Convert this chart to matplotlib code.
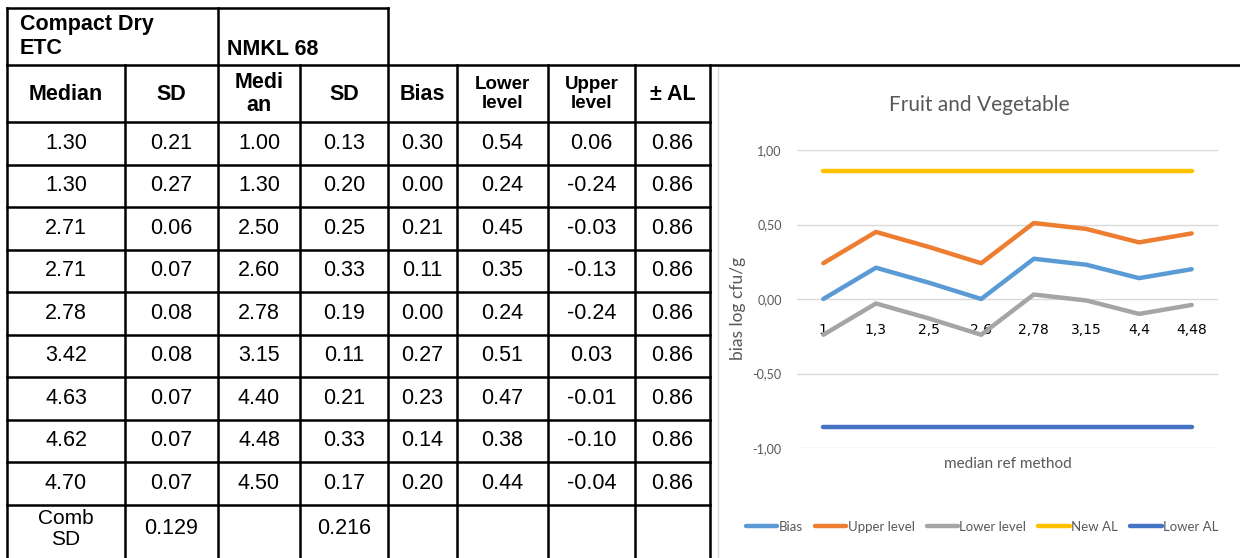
# Compact Dry ETC vs NMKL 68: table on the left, bias chart on the right
import matplotlib
matplotlib.use('Agg')
import matplotlib.pyplot as plt
from matplotlib.patches import Rectangle

# table data
ctd_median = [1.30, 1.30, 2.71, 2.71, 2.78, 3.42, 4.63, 4.62, 4.70]
ctd_sd = [0.21, 0.27, 0.06, 0.07, 0.08, 0.08, 0.07, 0.07, 0.07]
nmkl_median = [1.00, 1.30, 2.50, 2.60, 2.78, 3.15, 4.40, 4.48, 4.50]
nmkl_sd = [0.13, 0.20, 0.25, 0.33, 0.19, 0.11, 0.21, 0.33, 0.17]
bias = [0.30, 0.00, 0.21, 0.11, 0.00, 0.27, 0.23, 0.14, 0.20]
lower_level = [0.54, 0.24, 0.45, 0.35, 0.24, 0.51, 0.47, 0.38, 0.44]
upper_level = [0.06, -0.24, -0.03, -0.13, -0.24, 0.03, -0.01, -0.10, -0.04]
al = [0.86, 0.86, 0.86, 0.86, 0.86, 0.86, 0.86, 0.86, 0.86]
comb_sd = ['0.129', '', '0.216', '', '', '', '']
col_heads = ['Median', 'SD', 'Medi\nan', 'SD', 'Bias', 'Lower\nlevel', 'Upper\nlevel', '± AL']

# chart data
categories = ['1', '1,3', '2,5', '2,6', '2,78', '3,15', '4,4', '4,48']
chart_bias = [0.00, 0.21, 0.11, 0.00, 0.27, 0.23, 0.14, 0.20]
chart_upper = [0.24, 0.45, 0.35, 0.24, 0.51, 0.47, 0.38, 0.44]
chart_lower = [-0.24, -0.03, -0.13, -0.24, 0.03, -0.01, -0.10, -0.04]
new_al = [0.86] * 8
lower_al = [-0.86] * 8

W, H = 1240, 558
fig = plt.figure(figsize=(W / 100, H / 100), dpi=100)

# background axes in pixel coordinates for the table
bg = fig.add_axes([0, 0, 1, 1])
bg.set_xlim(0, W)
bg.set_ylim(H, 0)
bg.axis('off')

tfont = 'Liberation Sans'
cols = [7, 125, 218, 300, 388, 457, 548, 635, 710]
rows = [122 + 42.5 * i for i in range(10)]  # data row borders
lw = 1.8

# top group boxes
bg.plot([7, 388], [8, 8], color='black', lw=lw)
for x in [7, 218, 388]:
    bg.plot([x, x], [8, 65], color='black', lw=lw)
bg.plot([7, W], [65, 65], color='black', lw=lw)
bg.text(20, 14, 'Compact Dry\nETC', fontsize=15.5, fontweight='bold', family=tfont,
        va='top', ha='left', linespacing=1.2)
bg.text(227, 60, 'NMKL 68', fontsize=15.5, fontweight='bold', family=tfont,
        va='bottom', ha='left')

# grid of the main table
for x in cols:
    bg.plot([x, x], [65, H], color='black', lw=lw)
for y in rows:
    bg.plot([cols[0], cols[-1]], [y, y], color='black', lw=lw)

# header row
for j, h in enumerate(col_heads):
    cx = (cols[j] + cols[j + 1]) / 2
    fs = 13.5 if 'level' in h else 15.5
    bg.text(cx, 94, h, fontsize=fs, fontweight='bold', family=tfont,
            ha='center', va='center', linespacing=1.15)

# data rows
table_cols = [ctd_median, ctd_sd, nmkl_median, nmkl_sd, bias, lower_level, upper_level, al]
for i in range(9):
    cy = (rows[i] + rows[i + 1]) / 2
    for j, col in enumerate(table_cols):
        cx = (cols[j] + cols[j + 1]) / 2
        bg.text(cx, cy, '%.2f' % col[i], fontsize=15.5, family=tfont,
                ha='center', va='center')

# Comb SD row
bg.text((cols[0] + cols[1]) / 2, 529, 'Comb\nSD', fontsize=15, family=tfont,
        ha='center', va='center', linespacing=1.15)
for j, v in enumerate(comb_sd):
    cx = (cols[j + 1] + cols[j + 2]) / 2
    bg.text(cx, 529, v, fontsize=15.5, family=tfont, ha='center', va='center')

# chart frame
bg.add_patch(Rectangle((718, 66), 600, 600, fill=False, edgecolor='#D9D9D9', lw=1))

# chart
cfont = ['Lato', 'DejaVu Sans']
grey = '#595959'
ax = fig.add_axes([797 / W, (H - 448) / H, 421 / W, 298 / H])
x = [i + 0.5 for i in range(len(categories))]
line_kw = dict(lw=3.2, solid_capstyle='round')
ax.plot(x, chart_bias, color='#5B9BD5', label='Bias', **line_kw)
ax.plot(x, chart_upper, color='#ED7D31', label='Upper level', **line_kw)
ax.plot(x, chart_lower, color='#A5A5A5', label='Lower level', **line_kw)
ax.plot(x, new_al, color='#FFC000', label='New AL', **line_kw)
ax.plot(x, lower_al, color='#4472C4', label='Lower AL', **line_kw)

ax.set_xlim(0, 8)
ax.set_ylim(-1, 1)
ax.set_yticks([-1, -0.5, 0, 0.5, 1])
ax.set_yticklabels(['-1,00', '-0,50', '0,00', '0,50', '1,00'], family=cfont,
                   fontsize=9, color=grey)
ax.set_xticks(x)
ax.set_xticklabels(categories, family=cfont, fontsize=9, color=grey)
ax.grid(axis='y', color='#D9D9D9', lw=1)
ax.set_axisbelow(True)
for s in ['top', 'right', 'left']:
    ax.spines[s].set_visible(False)
ax.spines['bottom'].set_position(('data', 0))
ax.spines['bottom'].set_visible(False)
ax.tick_params(length=0)
ax.tick_params(axis='y', pad=11)
ax.tick_params(axis='x', pad=17)

fig.text(979 / W, (H - 105) / H, 'Fruit and Vegetable', family=cfont, fontsize=15,
         color=grey, ha='center', va='center')
ax.set_ylabel('bias log cfu/g', family=cfont, fontsize=12.5, color=grey)
ax.yaxis.set_label_coords(-0.12, 0.47)
ax.set_xlabel('median ref method', family=cfont, fontsize=11, color=grey)
ax.xaxis.set_label_coords(0.5, -0.03)

fig.legend(loc='center', bbox_to_anchor=(982 / W, (H - 527) / H), ncol=5,
           frameon=False, prop={'family': cfont, 'size': 9.5},
           handlelength=2.4, handletextpad=0.1, columnspacing=0.9,
           labelcolor=grey)

fig.savefig('out.png', dpi=100)
